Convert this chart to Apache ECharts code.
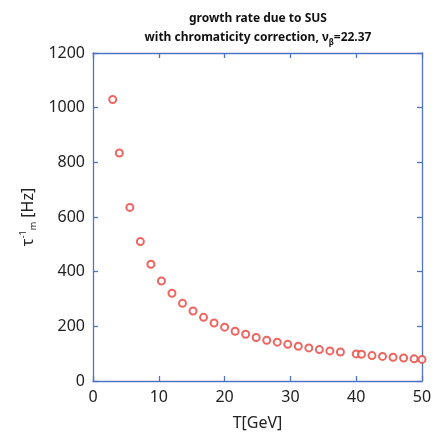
<!DOCTYPE html>
<html>
<head>
<meta charset="utf-8">
<script src="https://cdn.jsdelivr.net/npm/echarts@6/dist/echarts.min.js"></script>
<style>html,body{margin:0;padding:0;background:#fff}#c{width:435px;height:441px}</style>
</head>
<body>
<div id="c"></div>
<script>
const energyGeV = [3, 4, 5.6, 7.2, 8.8, 10.4, 12, 13.6, 15.2, 16.8, 18.4, 20, 21.6, 23.2, 24.8, 26.4, 28, 29.6, 31.2, 32.8, 34.4, 36, 37.6, 40, 40.8, 42.4, 44, 45.6, 47.2, 48.8, 50];
const growthRateHz = [1030, 834, 635, 510, 427, 366, 321, 284, 256, 233, 212, 197, 182, 171, 159, 149, 142, 134, 127, 121, 115, 110, 106, 99, 98, 93, 90, 87, 84, 81, 79];
const xTicks = [0, 10, 20, 30, 40, 50];
const yTicks = [0, 200, 400, 600, 800, 1000, 1200];

const axisColor = '#4f74c4';
const font = 'Noto Sans';
const points = energyGeV.map((t, i) => [t, growthRateHz[i]]);

const chart = echarts.init(document.getElementById('c'), null, {renderer: 'canvas'});
const baseAxis = {
  axisLine: {show: true, onZero: false, lineStyle: {color: axisColor, width: 1.3}},
  axisTick: {show: true, inside: true, length: 5, lineStyle: {color: axisColor, width: 1.3}},
  splitLine: {show: false}
};
chart.setOption({
  animation: false,
  title: {
    text: 'growth rate due to SUS\nwith chromaticity correction, ν{sub|β}=22.37',
    left: 258, top: 9, padding: 0, textAlign: 'center',
    textStyle: {
      fontFamily: font, fontWeight: 'bold', fontSize: 12, color: '#111', lineHeight: 19,
      rich: {sub: {fontFamily: font, fontWeight: 'bold', fontSize: 8, color: '#111', verticalAlign: 'bottom', padding: [8, 0, 0, 0]}}
    }
  },
  grid: {left: 93, right: 13, top: 53, bottom: 60},
  xAxis: [
    Object.assign({}, baseAxis, {
      type: 'value', min: 0, max: 50, interval: 10,
      name: 'T[GeV]', nameLocation: 'middle', nameGap: 34,
      nameTextStyle: {fontFamily: font, fontSize: 16, color: '#222'},
      axisLabel: {fontFamily: font, fontSize: 16, color: '#222', margin: 8,
        formatter: v => xTicks.includes(v) ? String(v) : ''}
    }),
    Object.assign({}, baseAxis, {
      type: 'value', min: 0, max: 50, interval: 10, position: 'top',
      axisLabel: {show: false}
    })
  ],
  yAxis: [
    Object.assign({}, baseAxis, {
      type: 'value', min: 0, max: 1200, interval: 200,
      name: '{t|τ}{sup|-1}{sub|m}{t| [Hz]}', nameLocation: 'middle', nameGap: 46, nameRotate: 90,
      nameTextStyle: {fontFamily: font, fontSize: 16, color: '#222',
        rich: {
          t: {fontFamily: font, fontSize: 16, color: '#222'},
          sup: {fontFamily: font, fontSize: 9, color: '#222', verticalAlign: 'top', padding: [0, 0, 10, 0]},
          sub: {fontFamily: font, fontSize: 9, color: '#222', verticalAlign: 'bottom', padding: [10, 0, 0, 0]}
        }},
      axisLabel: {fontFamily: font, fontSize: 16, color: '#222', margin: 8,
        formatter: v => yTicks.includes(v) ? String(v) : ''}
    }),
    Object.assign({}, baseAxis, {
      type: 'value', min: 0, max: 1200, interval: 200, position: 'right',
      axisLabel: {show: false}
    })
  ],
  series: [{
    type: 'scatter',
    data: points,
    symbol: 'emptyCircle',
    symbolSize: 7,
    itemStyle: {color: '#e8403a', borderColor: '#e8403a', borderWidth: 1}
  }]
});
</script>
</body>
</html>
